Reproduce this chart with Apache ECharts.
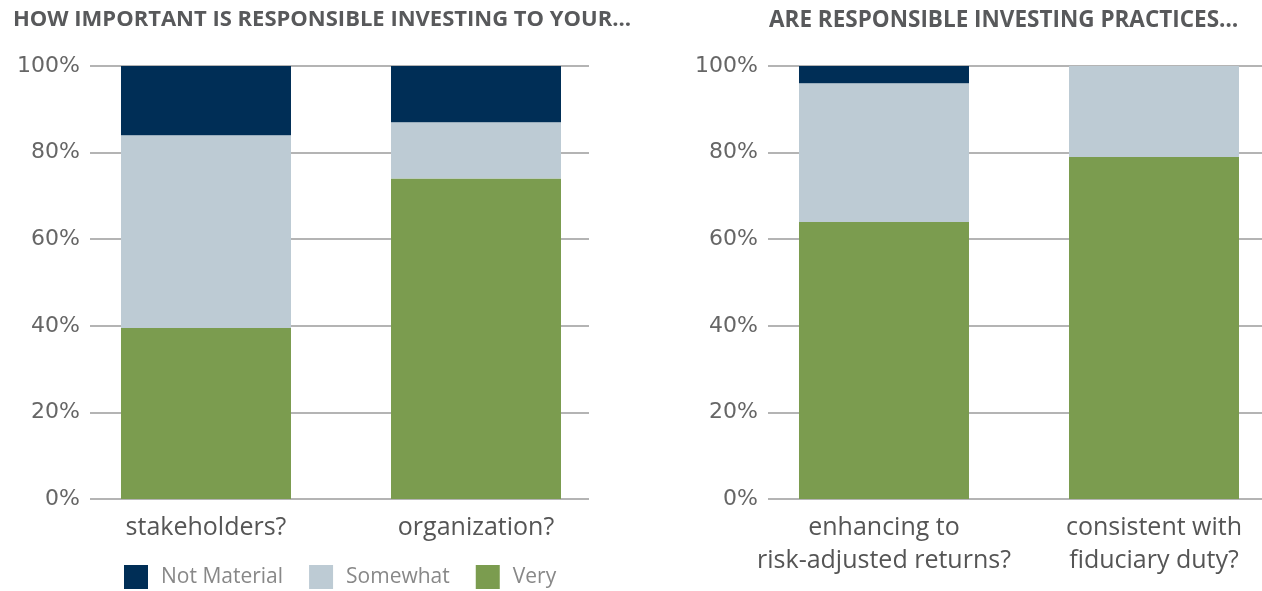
<!DOCTYPE html>
<html>
<head>
<meta charset="utf-8">
<script src="https://cdn.jsdelivr.net/npm/echarts@6/dist/echarts.min.js"></script>
<style>
  html, body { margin: 0; padding: 0; background: #fff; }
  #chart { width: 1262px; height: 591px; }
</style>
</head>
<body>
<div id="chart"></div>
<script>
// data
const leftCategories = ["stakeholders?", "organization?"];
const leftVery = [39.5, 74];
const leftSomewhat = [44.5, 13];
const leftNotMaterial = [16, 13];

const rightCategories = ["enhancing to\nrisk-adjusted returns?", "consistent with\nfiduciary duty?"];
const rightVery = [64, 79];
const rightSomewhat = [32, 21];
const rightNotMaterial = [4, 0];

const yTicks = [0, 20, 40, 60, 80, 100];

const colors = {
  notMaterial: "#002e56",
  somewhat: "#bdcbd4",
  very: "#7b9c4f",
};
const fontFamily = "'Open Sans', 'Noto Sans', sans-serif";

const chart = echarts.init(document.getElementById("chart"), null, { renderer: "canvas" });

// bars sit on a value x axis (category index 0, 1) so the gridlines can
// run past the bars unevenly like in the original
const catIdx = (cats) => cats.map((c, i) => i);

const xAxisFor = (gridIndex, cats, min, max) => ({
  type: "value",
  gridIndex: gridIndex,
  min: min,
  max: max,
  axisLine: { show: false },
  axisTick: { show: false },
  splitLine: { show: false },
  axisLabel: {
    customValues: catIdx(cats),
    formatter: (v) => cats[Math.round(v)],
    fontSize: 25,
    lineHeight: 33,
    color: "#555",
    fontFamily: fontFamily,
    margin: 12,
  },
});

const yAxisFor = (gridIndex) => ({
  type: "value",
  gridIndex: gridIndex,
  min: yTicks[0],
  max: yTicks[yTicks.length - 1],
  interval: 20,
  axisLine: { show: false },
  axisTick: { show: false },
  axisLabel: {
    formatter: "{value}%",
    fontSize: 22,
    color: "#666",
    fontFamily: "'DejaVu Sans', sans-serif",
    margin: 10,
  },
  splitLine: {
    lineStyle: { color: "#9b9b9b", width: 1.5 },
  },
});

// value goes first in each pair so the stack runs along y
const makeSeries = (axisIndex, very, somewhat, notMaterial, stackName) => [
  { name: "Very", data: very, color: colors.very },
  { name: "Somewhat", data: somewhat, color: colors.somewhat },
  { name: "Not Material", data: notMaterial, color: colors.notMaterial },
].map((s) => ({
  name: s.name,
  type: "bar",
  stack: stackName,
  xAxisIndex: axisIndex,
  yAxisIndex: axisIndex,
  barWidth: 170,
  data: s.data.map((v, i) => [v, i]),
  encode: { x: 1, y: 0 },
  itemStyle: { color: s.color },
  emphasis: { disabled: true },
}));

const option = {
  animation: false,
  title: [
    {
      text: "HOW IMPORTANT IS RESPONSIBLE INVESTING TO YOUR…",
      left: 8,
      top: 4,
      textStyle: { fontSize: 22, fontWeight: "bold", color: "#58595b", fontFamily: fontFamily },
    },
    {
      text: "ARE RESPONSIBLE INVESTING PRACTICES…",
      left: 764,
      top: 4,
      textStyle: { fontSize: 22.5, fontWeight: "bold", color: "#58595b", fontFamily: fontFamily },
    },
  ],
  legend: {
    data: ["Not Material", "Somewhat", "Very"],
    left: 124,
    top: 565,
    padding: 0,
    icon: "rect",
    itemWidth: 24,
    itemHeight: 24,
    itemGap: 26,
    selectedMode: false,
    textStyle: {
      fontSize: 21,
      color: "#888",
      fontFamily: fontFamily,
      padding: [0, 0, 0, 8],
    },
  },
  grid: [
    { left: 90, right: 673, top: 66, bottom: 92 },
    { left: 768, right: 0, top: 66, bottom: 92 },
  ],
  xAxis: [
    xAxisFor(0, leftCategories, -0.4296, 1.4185),
    xAxisFor(1, rightCategories, -0.4296, 1.4),
  ],
  yAxis: [yAxisFor(0), yAxisFor(1)],
  series: [
    ...makeSeries(0, leftVery, leftSomewhat, leftNotMaterial, "left"),
    ...makeSeries(1, rightVery, rightSomewhat, rightNotMaterial, "right"),
  ],
};

chart.setOption(option);
</script>
</body>
</html>
